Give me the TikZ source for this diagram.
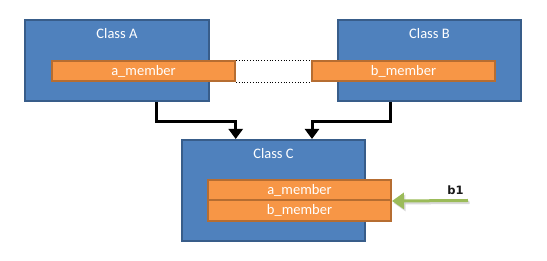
\documentclass[tikz,border=0pt]{standalone}
\usepackage{fontspec}
\setmainfont{Carlito}
\newfontfamily\lblfont{DejaVu Sans}
\usetikzlibrary{arrows.meta}
\definecolor{clsfill}{HTML}{4F81BD}
\definecolor{clsdraw}{HTML}{385D8A}
\definecolor{memfill}{HTML}{F79646}
\definecolor{memdraw}{HTML}{B66D31}
\definecolor{grn}{HTML}{9BBB59}
\tikzset{
  clsbox/.style={draw=clsdraw, fill=clsfill, line width=2pt, inner sep=0pt},
  membox/.style={draw=memdraw, fill=memfill, line width=2pt, inner sep=0pt,
    minimum width=183, minimum height=20, text=white,
    font=\fontsize{14.5}{17}\selectfont},
  ttl/.style={text=white, inner sep=0pt, font=\fontsize{14.5}{17}\selectfont},
  blackarr/.style={line width=3pt, -{Triangle[width=14pt,length=10pt]}},
  dotln/.style={line width=0.8pt, dotted},
  grnarr/.style={draw=grn, line width=3pt, -{Triangle[width=16pt,length=12pt]}},
  shdarr/.style={draw=black!25, opacity=0.6, line width=3pt, -{Triangle[width=16pt,length=12pt]}},
}
\begin{document}
\begin{tikzpicture}[x=1pt,y=-1pt]
\useasboundingbox (0,0) rectangle (547,261);
% class boxes
\node[clsbox, minimum width=184, minimum height=81] (A) at (117,60.5) {};
\node[clsbox, minimum width=183, minimum height=81] (B) at (429.5,60.5) {};
\node[clsbox, minimum width=183, minimum height=101] (C) at (273.5,190.5) {};
\node[ttl] (At) at (117,34) {Class A};
\node[ttl] (Bt) at (429.5,34) {Class B};
\node[ttl] (Ct) at (273.5,154) {Class C};
% dotted link
\node[membox] (am) at (143.5,71) {a\_member};
\node[membox] (bm) at (403.5,71) {b\_member};
\draw[dotln] (am.north east) -- (bm.north west);
\draw[dotln] (am.south east) -- (bm.south west);
% members of C
\node[membox] (ca) at (299.5,190) {a\_member};
\node[membox, minimum height=21] (cb) at (299.5,210.5) {b\_member};
% arrows
\draw[blackarr] ([xshift=39]A.south) -- ++(0,20) -| ([xshift=-37.8]C.north);
\draw[blackarr] ([xshift=-39]B.south) -- ++(0,20) -| ([xshift=38.5]C.north);
% green arrow
\coordinate (gstart) at (468,200.5);
\draw[shdarr] ([shift={(1.5,2)}]gstart) -- ([shift={(1.5,2)}]ca.south east);
\draw[grnarr] (gstart) -- (ca.south east);
\node[inner sep=0pt, font=\lblfont\bfseries\fontsize{11.5}{13}\selectfont, text=black!90, anchor=base] (b1) at (455.5,195) {b1};
\end{tikzpicture}
\end{document}
